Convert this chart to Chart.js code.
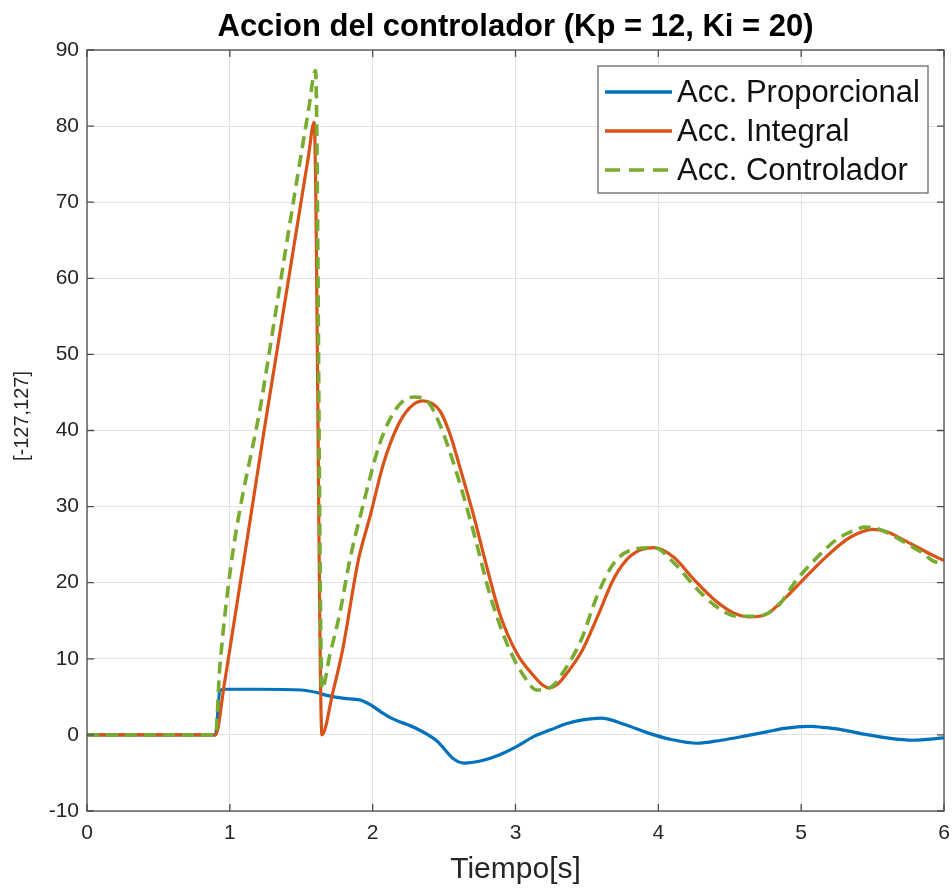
<!DOCTYPE html>
<html>
<head>
<meta charset="utf-8">
<script src="https://cdn.jsdelivr.net/npm/chart.js@4.4.1/dist/chart.umd.min.js"></script>
<style>
  body { margin: 0; background: #fff; }
  #wrap { width: 952px; height: 892px; }
</style>
</head>
<body>
<div id="wrap"><canvas id="plot" width="952" height="892"></canvas></div>
<script>
// Accion proporcional
const timeP = [0, 0.9, 0.93, 0.96, 1.2, 1.5, 1.6, 1.68, 1.8, 1.91, 1.98, 2.06, 2.13, 2.3, 2.45, 2.57, 2.64, 2.76, 2.89, 3.01, 3.13, 3.25, 3.36, 3.48, 3.6, 3.76, 3.92, 4.09, 4.27, 4.44, 4.62, 4.76, 4.88, 5.0, 5.07, 5.15, 5.25, 5.44, 5.6, 5.78, 6.0];
const accP  = [0, 0, 5.8, 6.0, 6.0, 5.9, 5.6, 5.2, 4.8, 4.6, 4.0, 3.0, 2.2, 0.9, -0.8, -3.2, -3.7, -3.4, -2.6, -1.5, -0.2, 0.7, 1.5, 2.0, 2.2, 1.4, 0.3, -0.6, -1.1, -0.7, -0.1, 0.4, 0.85, 1.1, 1.12, 1.0, 0.8, 0.1, -0.4, -0.7, -0.4];

// Accion integral
const timeI = [0, 0.9, 0.96, 1.24, 1.55, 1.59, 1.645, 1.72, 1.79, 1.9, 1.98, 2.075, 2.17, 2.26, 2.35, 2.47, 2.54, 2.61, 2.71, 2.8, 2.89, 3.01, 3.13, 3.18, 3.23, 3.29, 3.36, 3.47, 3.58, 3.69, 3.81, 3.97, 4.11, 4.25, 4.39, 4.53, 4.64, 4.76, 4.9, 5.04, 5.18, 5.32, 5.4, 5.5, 5.6, 5.7, 5.8, 5.9, 6.0];
const accI  = [0, 0, 6.5, 40, 76, 80.5, 0, 5.5, 11.2, 23, 28.6, 35.6, 40.4, 43, 43.9, 42.6, 39.6, 35.2, 28.6, 22, 15.9, 10.7, 7.7, 6.7, 6.2, 6.6, 8.1, 11.2, 15.8, 20.6, 23.6, 24.6, 23.3, 20.4, 17.8, 16, 15.5, 15.9, 18.2, 20.9, 23.5, 25.7, 26.5, 27, 26.7, 25.8, 24.8, 23.8, 22.9];

// Accion del controlador
const timeC = [0, 0.9, 0.93, 1.24, 1.55, 1.6, 1.645, 1.7, 1.77, 1.84, 1.93, 2.05, 2.17, 2.29, 2.38, 2.47, 2.59, 2.71, 2.82, 2.94, 3.06, 3.15, 3.25, 3.36, 3.46, 3.57, 3.69, 3.83, 3.97, 4.11, 4.25, 4.39, 4.55, 4.69, 4.83, 4.97, 5.11, 5.25, 5.35, 5.45, 5.55, 5.65, 5.75, 5.85, 5.92, 6.0];
const accC  = [0, 0, 9, 46, 82, 87.3, 6, 10.5, 16, 23, 30, 38.3, 43, 44.4, 43.9, 40.8, 34.3, 26.4, 18.5, 12, 7.7, 5.9, 6.3, 9, 12.5, 18.2, 22.6, 24.4, 24.6, 22.6, 19.6, 17.1, 15.6, 15.6, 16.8, 20.4, 23.3, 25.7, 26.7, 27.3, 27, 26.1, 25, 23.9, 22.9, 22.4];

const xTicks = [0, 1, 2, 3, 4, 5, 6];
const yTicks = [-10, 0, 10, 20, 30, 40, 50, 60, 70, 80, 90];
const seriesNames = ['Acc. Proporcional', 'Acc. Integral', 'Acc. Controlador'];
const titleText = 'Accion del controlador (Kp = 12, Ki = 20)';
const yLabel = '[-127,127]';

const FONT = "'Liberation Sans', Arial, Helvetica, sans-serif";
const blue = '#0072BD', orange = '#D95319', green = '#77AC30';

function toPoints(ts, vs) {
  return ts.map((t, i) => ({ x: t, y: vs[i] }));
}

// box round the axes, inward ticks, title, y label and the legend inside the plot
const framePlugin = {
  id: 'frame',
  afterDatasetsDraw(chart) {
    const { ctx, chartArea: a, scales } = chart;
    ctx.save();
    ctx.strokeStyle = '#4d4d4d';
    ctx.lineWidth = 1.3;
    ctx.strokeRect(a.left, a.top, a.right - a.left, a.bottom - a.top);
    ctx.beginPath();
    xTicks.forEach(v => {
      const px = scales.x.getPixelForValue(v);
      ctx.moveTo(px, a.bottom); ctx.lineTo(px, a.bottom - 7);
      ctx.moveTo(px, a.top); ctx.lineTo(px, a.top + 7);
    });
    yTicks.forEach(v => {
      const py = scales.y.getPixelForValue(v);
      ctx.moveTo(a.left, py); ctx.lineTo(a.left + 7, py);
      ctx.moveTo(a.right, py); ctx.lineTo(a.right - 7, py);
    });
    ctx.stroke();

    // title centred over the axes
    ctx.fillStyle = '#000';
    ctx.font = 'bold 31px ' + FONT;
    ctx.textAlign = 'center';
    ctx.textBaseline = 'alphabetic';
    ctx.fillText(titleText, (a.left + a.right) / 2, 36);

    // y label
    ctx.save();
    ctx.translate(22, 416);
    ctx.rotate(-Math.PI / 2);
    ctx.fillStyle = '#262626';
    ctx.font = '20px ' + FONT;
    ctx.textBaseline = 'middle';
    ctx.fillText(yLabel, 0, 0);
    ctx.restore();

    // legend
    const lx = 598, ly = 66, lw = 330, lh = 127;
    ctx.fillStyle = '#fff';
    ctx.fillRect(lx, ly, lw, lh);
    ctx.strokeStyle = '#6a6a6a';
    ctx.lineWidth = 1.3;
    ctx.strokeRect(lx, ly, lw, lh);
    const rows = [92, 131, 170];
    const colors = [blue, orange, green];
    ctx.font = '31px ' + FONT;
    ctx.textAlign = 'left';
    ctx.textBaseline = 'middle';
    seriesNames.forEach((name, i) => {
      ctx.beginPath();
      ctx.strokeStyle = colors[i];
      ctx.lineWidth = 3.5;
      ctx.setLineDash(i === 2 ? [15, 9] : []);
      ctx.moveTo(605, rows[i]);
      ctx.lineTo(672, rows[i]);
      ctx.stroke();
      ctx.setLineDash([]);
      ctx.fillStyle = '#111';
      ctx.fillText(name, 677, rows[i] + 1);
    });
    ctx.restore();
  }
};

new Chart(document.getElementById('plot'), {
  type: 'line',
  data: {
    datasets: [
      {
        label: seriesNames[0],
        data: toPoints(timeP, accP),
        borderColor: blue,
        borderWidth: 3.2,
        order: 3
      },
      {
        label: seriesNames[1],
        data: toPoints(timeI, accI),
        borderColor: orange,
        borderWidth: 3.2,
        order: 2
      },
      {
        label: seriesNames[2],
        data: toPoints(timeC, accC),
        borderColor: green,
        borderWidth: 3.6,
        borderDash: [12, 7],
        order: 1
      }
    ]
  },
  options: {
    responsive: false,
    animation: false,
    elements: {
      point: { radius: 0 },
      line: { cubicInterpolationMode: 'monotone', fill: false }
    },
    layout: { padding: { left: 0, right: 8, top: 50, bottom: 0 } },
    plugins: {
      legend: { display: false },
      tooltip: { enabled: false },
      title: { display: false }
    },
    scales: {
      x: {
        type: 'linear',
        min: 0,
        max: 6,
        afterBuildTicks: s => { s.ticks = xTicks.map(v => ({ value: v })); },
        afterFit: s => { s.height = 81; s.paddingLeft = 0; s.paddingRight = 0; },
        grid: { color: '#e2e2e2', drawTicks: false },
        border: { display: false },
        ticks: { color: '#262626', font: { family: FONT, size: 21 }, padding: 10, maxRotation: 0 },
        title: {
          display: true,
          text: 'Tiempo[s]',
          color: '#262626',
          font: { family: FONT, size: 30 },
          padding: { top: 0, bottom: 4 }
        }
      },
      y: {
        type: 'linear',
        min: -10,
        max: 90,
        afterBuildTicks: s => { s.ticks = yTicks.map(v => ({ value: v })); },
        afterFit: s => { s.width = 87; s.paddingTop = 0; s.paddingBottom = 0; },
        grid: { color: '#e2e2e2', drawTicks: false },
        border: { display: false },
        ticks: { color: '#262626', font: { family: FONT, size: 21 }, padding: 8 }
      }
    }
  },
  plugins: [framePlugin]
});
</script>
</body>
</html>
